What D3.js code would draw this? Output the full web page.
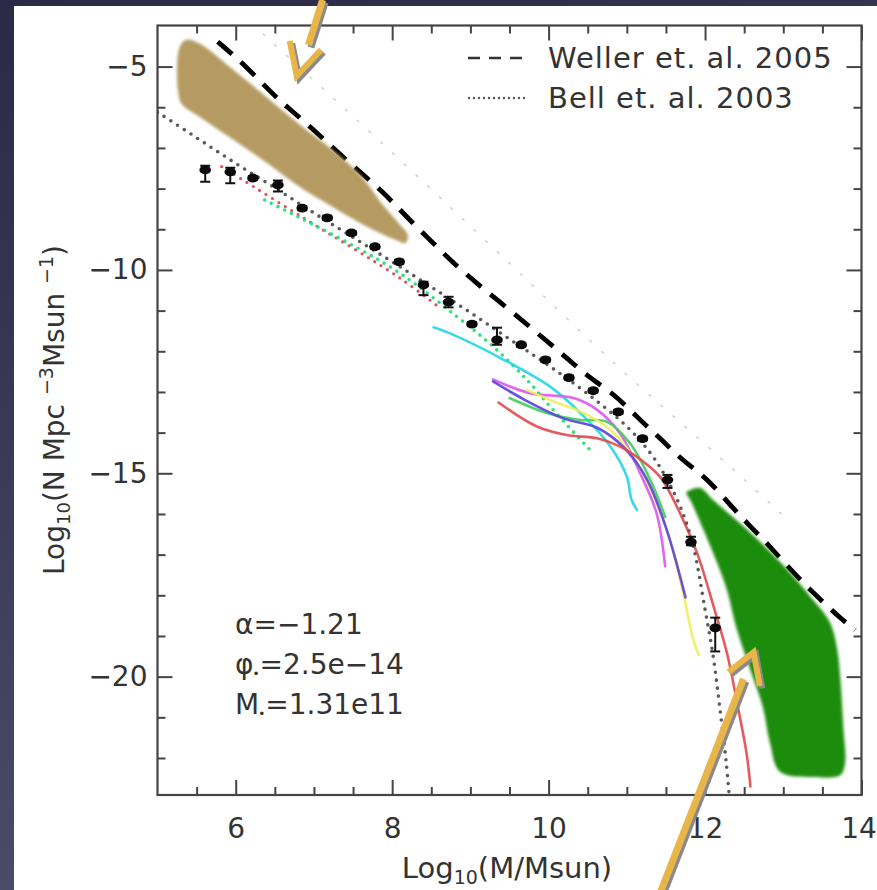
<!DOCTYPE html>
<html><head><meta charset="utf-8">
<script src="https://cdn.jsdelivr.net/npm/d3@7"></script>
<style>
body{margin:0;background:#fff;}
svg{display:block;}
text{font-family:"DejaVu Sans",sans-serif;fill:#333;}
</style>
</head><body>
<svg id="chart" width="877" height="890"></svg>
<script>
// ---------------- DATA ----------------
// binned mass function points (log10 M, log10 N) with error bars (dex)
const massBins   = [5.61,5.93,6.22,6.54,6.85,7.17,7.48,7.78,8.09,8.40,8.72,9.02,9.34,9.65,9.96,10.26,10.57,10.89,11.20,11.52,11.82,12.13];
const logDensity = [-7.54,-7.59,-7.74,-7.91,-8.48,-8.72,-9.09,-9.43,-9.80,-10.37,-10.79,-11.33,-11.72,-11.84,-12.21,-12.65,-12.97,-13.49,-14.15,-15.16,-16.69,-18.80];
const errLow     = [0.29,0.28,0.05,0.16,0.05,0.05,0.05,0.05,0.05,0.25,0.13,0.05,0.12,0.05,0.05,0.05,0.05,0.05,0.05,0.20,0.08,0.58];
const errHigh    = [0.10,0.10,0.05,0.11,0.05,0.05,0.05,0.05,0.05,0.08,0.13,0.05,0.30,0.05,0.05,0.05,0.05,0.05,0.05,0.12,0.13,0.25];

// Schechter fit (black dotted)
const fitMass = [5.0,5.5,6.0,6.5,7.0,7.5,8.0,8.5,9.0,9.5,10.0,10.5,11.0,11.3,11.5,11.7,11.85,12.0,12.1,12.2,12.27,12.31];
const fitLogN = [-6.12,-6.75,-7.38,-7.98,-8.6,-9.2,-9.8,-10.42,-11.05,-11.7,-12.35,-13.05,-13.85,-14.5,-15.1,-15.9,-16.8,-18.35,-19.45,-20.95,-22.1,-22.95];

// Weller et al. 2005 (thick dashed)
const wellerMass = [5.77,6.14,6.48,6.78,7.09,7.46,7.86,8.17,8.52,8.78,9.12,9.55,9.91,10.23,10.52,10.84,11.14,11.45,11.70,12.02,12.32,12.58,12.83,13.13,13.41,13.75,13.92];
const wellerLogN = [-4.39,-5.0,-5.70,-6.19,-6.72,-7.39,-8.03,-8.67,-9.33,-9.83,-10.39,-11.06,-11.64,-12.16,-12.65,-13.05,-13.64,-14.18,-14.67,-15.11,-15.78,-16.31,-16.80,-17.45,-17.99,-18.60,-18.85];

// faint grey dotted (upper)
const faintMass = [6.35,6.95,7.80,8.71,9.55,10.95,11.90,12.74,13.0];
const faintLogN = [-4.2,-5.25,-6.75,-8.40,-9.92,-12.53,-14.10,-15.57,-16.05];

// coloured dotted fits
const redDotted   = [[5.82,-7.46],[6.84,-8.69],[8.10,-10.2],[8.62,-10.95]];
const greenDotted = [[6.37,-8.28],[7.97,-9.92],[8.83,-11.15],[9.34,-11.97],[9.76,-12.78],[10.02,-13.36],[10.57,-14.51]];

// coloured solid curves
const cyanCurve    = [[8.53,-11.41],[8.74,-11.56],[9.38,-12.16],[10.02,-12.87],[10.45,-13.6],[10.79,-14.34],[11.0,-15.08],[11.06,-15.65],[11.13,-15.9]];
const magentaCurve = [[9.29,-12.69],[9.76,-13.03],[10.32,-13.15],[10.62,-13.44],[10.91,-14.01],[11.17,-15.0],[11.38,-15.98],[11.49,-17.29]];
const blueCurve    = [[9.29,-12.74],[9.7,-13.2],[10.19,-13.65],[10.62,-13.88],[10.96,-14.36],[11.26,-15.16],[11.51,-16.39],[11.75,-18.05]];
const yellowCurve  = [[9.72,-12.95],[10.02,-13.2],[10.45,-13.52],[10.8,-13.95],[11.13,-14.75],[11.51,-16.39],[11.72,-17.95],[11.85,-19.1],[11.92,-19.47]];
const greenCurve   = [[9.50,-13.15],[9.98,-13.52],[10.40,-13.69],[10.74,-13.73],[11.04,-14.26],[11.30,-15.16],[11.49,-16.07]];
const redCurve     = [[9.36,-13.26],[9.85,-13.85],[10.23,-14.06],[10.62,-14.14],[10.91,-14.34],[11.2,-14.7],[11.43,-15.1],[11.68,-15.98],[11.9,-16.97],[12.11,-18.28],[12.28,-19.42],[12.41,-20.65],[12.53,-21.88],[12.58,-22.7]];

// highlighted regions (blobs)
const brownRegion = [[5.37,-4.34],[5.54,-4.44],[5.97,-5.08],[6.48,-5.89],[6.82,-6.43],[7.24,-7.05],[7.59,-7.66],[7.88,-8.40],[8.10,-8.89],[8.20,-9.14],[8.17,-9.34],[8.04,-9.26],[7.68,-8.94],[7.24,-8.45],[6.82,-7.96],[6.40,-7.37],[5.97,-6.80],[5.54,-6.24],[5.31,-5.92],[5.26,-5.57],[5.26,-4.71],[5.30,-4.46]];
const greenRegion = [[11.81,-15.41],[11.94,-15.36],[12.10,-15.65],[12.54,-16.39],[12.97,-17.20],[13.38,-18.11],[13.60,-18.68],[13.69,-19.34],[13.73,-20.08],[13.77,-21.31],[13.79,-22.12],[13.73,-22.42],[13.38,-22.47],[12.96,-22.34],[12.83,-21.63],[12.74,-20.75],[12.58,-19.84],[12.41,-18.86],[12.28,-17.87],[12.19,-17.38],[11.98,-16.39],[11.81,-15.65],[11.76,-15.48]];

// annotation arrows (data coordinates)
const arrowTopShaft = [[7.11,-3.36],[6.93,-4.47]];
const arrowTopHead  = [[6.69,-4.37],[6.78,-5.23],[7.09,-4.59]];
const arrowBotShaft = [[11.43,-25.3],[12.49,-20.06]];
const arrowBotHead  = [[12.30,-19.89],[12.62,-19.40],[12.70,-20.23]];

// ticks and labels
const xMajorTicks = [6,8,10,12,14];
const xMinorTicks = [5.5,6.5,7,7.5,8.5,9,9.5,10.5,11,11.5,12.5,13,13.5];
const yMajorTicks = [-5,-10,-15,-20];
const yMinorTicks = [-22,-21,-19,-18,-17,-16,-14,-13,-12,-11,-9,-8,-7,-6];
const legendLabels = ["Weller et. al. 2005","Bell et. al. 2003"];
const fitParams = [["α","","=−1.21"],["φ","•","=2.5e−14"],["M","•","=1.31e11"]];

// ---------------- DRAW ----------------
const W=877,H=890;
const svg=d3.select("#chart");
const defs=svg.append("defs");
const grad=defs.append("linearGradient").attr("id","bg").attr("x1",0).attr("y1",0).attr("x2",0.3).attr("y2",1);
grad.append("stop").attr("offset","0%").attr("stop-color","#2a2946");
grad.append("stop").attr("offset","100%").attr("stop-color","#4c4e6b");
svg.append("rect").attr("width",W).attr("height",H).attr("fill","url(#bg)");
svg.append("rect").attr("x",14).attr("y",6).attr("width",W-14).attr("height",H-6).attr("fill","#fff");

const P={left:157.5,right:861.5,top:25.5,bottom:795};
const x=d3.scaleLinear().domain([5,14]).range([P.left,P.right]);
const y=d3.scaleLinear().domain([-22.91,-3.99]).range([P.bottom,P.top]);

defs.append("clipPath").attr("id","clip").append("rect")
  .attr("x",P.left).attr("y",P.top).attr("width",P.right-P.left).attr("height",P.bottom-P.top);
defs.append("filter").attr("id","soft").attr("x","-10%").attr("y","-10%").attr("width","120%").attr("height","120%")
  .append("feGaussianBlur").attr("stdDeviation",1.8);

const plot=svg.append("g").attr("clip-path","url(#clip)");
const lineXY=d3.line().x(d=>x(d[0])).y(d=>y(d[1])).curve(d3.curveCatmullRom.alpha(0.5));
const smoothXY=d3.line().x(d=>x(d[0])).y(d=>y(d[1])).curve(d3.curveBasis);
const zip=(a,b)=>a.map((v,i)=>[v,b[i]]);

// faint grey dotted
plot.append("path").attr("d",smoothXY(zip(faintMass,faintLogN))).attr("fill","none")
  .attr("stroke","#cfcfcf").attr("stroke-width",1.5).attr("stroke-dasharray","2,14").attr("stroke-linecap","round");

// coloured dotted
plot.append("path").attr("d",lineXY(redDotted)).attr("fill","none")
  .attr("stroke","#e2525e").attr("stroke-width",3.2).attr("stroke-dasharray","0,7.5").attr("stroke-linecap","round");
plot.append("path").attr("d",lineXY(greenDotted)).attr("fill","none")
  .attr("stroke","#2ee07e").attr("stroke-width",3.6).attr("stroke-dasharray","0,7.5").attr("stroke-linecap","round");

// coloured solid curves
const solid=[[cyanCurve,"#22d6e6"],[magentaCurve,"#dd55ee"],[greenCurve,"#3dcf5a"],[yellowCurve,"#f0ee5a"],[blueCurve,"#5a40de"],[redCurve,"#e2484c"]];
solid.forEach(([c,col])=>{
  plot.append("path").attr("d",lineXY(c)).attr("fill","none").attr("stroke",col)
    .attr("stroke-width",2.6).attr("stroke-linecap","round").attr("opacity",0.9);
});

// Schechter dotted
plot.append("path").attr("d",lineXY(zip(fitMass,fitLogN))).attr("fill","none")
  .attr("stroke","#5a5a5a").attr("stroke-width",3.6).attr("stroke-dasharray","0,8").attr("stroke-linecap","round");

// Weller dashed
plot.append("path").attr("d",smoothXY(zip(wellerMass,wellerLogN))).attr("fill","none")
  .attr("stroke","#000").attr("stroke-width",4.8).attr("stroke-dasharray","19,12");

// data points with error bars
const pts=massBins.map((m,i)=>({m,n:logDensity[i],lo:errLow[i],hi:errHigh[i]}));
const pg=plot.append("g");
pts.forEach(d=>{
  pg.append("line").attr("x1",x(d.m)).attr("x2",x(d.m)).attr("y1",y(d.n+d.hi)).attr("y2",y(d.n-d.lo))
    .attr("stroke","#111").attr("stroke-width",2);
  [d.n+d.hi,d.n-d.lo].forEach(v=>pg.append("line").attr("x1",x(d.m)-5).attr("x2",x(d.m)+5)
    .attr("y1",y(v)).attr("y2",y(v)).attr("stroke","#111").attr("stroke-width",2));
  pg.append("ellipse").attr("cx",x(d.m)).attr("cy",y(d.n)).attr("rx",5.8).attr("ry",4.4).attr("fill","#0a0a0a");
});

// blobs
const blob=d3.line().x(d=>x(d[0])).y(d=>y(d[1])).curve(d3.curveCatmullRomClosed.alpha(0.5));
plot.append("path").attr("d",blob(brownRegion)).attr("fill","#b59b62").attr("filter","url(#soft)");
plot.append("path").attr("d",blob(greenRegion)).attr("fill","#1b8c0b").attr("filter","url(#soft)");

// axes (inward ticks on four sides)
const tickStyle=g=>{g.select(".domain").remove();g.selectAll(".tick line").attr("stroke","#444").attr("stroke-width",2);};
const fmt=d=>d3.format("d")(d);
svg.append("g").attr("transform",`translate(0,${P.bottom})`)
  .call(d3.axisBottom(x).tickValues(xMajorTicks).tickSize(-15).tickPadding(23).tickFormat(fmt))
  .call(tickStyle).call(g=>g.selectAll("text").attr("font-size",28).attr("fill","#333").attr("font-family","DejaVu Sans")
    .attr("dx",d=>d===14?-3:0));
svg.append("g").attr("transform",`translate(0,${P.bottom})`)
  .call(d3.axisBottom(x).tickValues(xMinorTicks).tickSize(-8).tickFormat("")).call(tickStyle);
svg.append("g").attr("transform",`translate(0,${P.top})`)
  .call(d3.axisTop(x).tickValues(xMajorTicks).tickSize(-15).tickFormat("")).call(tickStyle);
svg.append("g").attr("transform",`translate(0,${P.top})`)
  .call(d3.axisTop(x).tickValues(xMinorTicks).tickSize(-8).tickFormat("")).call(tickStyle);
svg.append("g").attr("transform",`translate(${P.left},0)`)
  .call(d3.axisLeft(y).tickValues(yMajorTicks).tickSize(-15).tickPadding(10).tickFormat(fmt))
  .call(tickStyle).call(g=>g.selectAll("text").attr("font-size",28).attr("fill","#333").attr("font-family","DejaVu Sans"));
svg.append("g").attr("transform",`translate(${P.left},0)`)
  .call(d3.axisLeft(y).tickValues(yMinorTicks).tickSize(-8).tickFormat("")).call(tickStyle);
svg.append("g").attr("transform",`translate(${P.right},0)`)
  .call(d3.axisRight(y).tickValues(yMajorTicks).tickSize(-15).tickFormat("")).call(tickStyle);
svg.append("g").attr("transform",`translate(${P.right},0)`)
  .call(d3.axisRight(y).tickValues(yMinorTicks).tickSize(-8).tickFormat("")).call(tickStyle);

// frame
svg.append("rect").attr("x",P.left).attr("y",P.top).attr("width",P.right-P.left).attr("height",P.bottom-P.top)
  .attr("fill","none").attr("stroke","#444").attr("stroke-width",2.2);

// axis titles
const xt=svg.append("text").attr("x",507).attr("y",878).attr("text-anchor","middle").attr("font-size",29);
xt.append("tspan").text("Log");
xt.append("tspan").attr("font-size",19).attr("dy",6).text("10");
xt.append("tspan").attr("dy",-6).text("(M/Msun)");

const yt=svg.append("text").attr("transform","translate(64,410) rotate(-90)").attr("text-anchor","middle").attr("font-size",28);
yt.append("tspan").text("Log");
yt.append("tspan").attr("font-size",18).attr("dy",6).text("10");
yt.append("tspan").attr("dy",-6).text("(N Mpc ");
yt.append("tspan").attr("font-size",19).attr("dy",-11).text("−3");
yt.append("tspan").attr("dy",11).text("Msun ");
yt.append("tspan").attr("font-size",19).attr("dy",-11).text("−1");
yt.append("tspan").attr("dy",11).text(")");

// legend
svg.append("line").attr("x1",468).attr("x2",528).attr("y1",58).attr("y2",58)
  .attr("stroke","#333").attr("stroke-width",2.6).attr("stroke-dasharray","12,9");
svg.append("line").attr("x1",469).attr("x2",528).attr("y1",98).attr("y2",98)
  .attr("stroke","#555").attr("stroke-width",2.4).attr("stroke-dasharray","0,5").attr("stroke-linecap","round");
legendLabels.forEach((t,i)=>svg.append("text").attr("x",548).attr("y",68+i*40).attr("font-size",29)
  .attr("letter-spacing",1).text(t));

// fit parameters text
fitParams.forEach((p,i)=>{
  const t=svg.append("text").attr("x",235).attr("y",634+i*40).attr("font-size",28);
  t.append("tspan").text(p[0]);
  if(p[1]){t.append("tspan").attr("font-size",12).attr("dy",4).attr("dx",-1).text(p[1]);
           t.append("tspan").attr("dy",-4).text(p[2]);}
  else t.append("tspan").text(p[2]);
});

// arrows
const straight=d3.line().x(d=>x(d[0])).y(d=>y(d[1]));
function arrow(shaft,head){
  [["#8a8a8a",2.5],["#e8b548",0]].forEach(([col,off])=>{
    const g=svg.append("g").attr("transform",`translate(${off},${off})`);
    g.append("path").attr("d",straight(shaft)).attr("stroke",col).attr("stroke-width",7).attr("fill","none");
    g.append("path").attr("d",straight(head)).attr("stroke",col).attr("stroke-width",6).attr("fill","none")
      .attr("stroke-linejoin","miter");
  });
}
arrow(arrowTopShaft,arrowTopHead);
arrow(arrowBotShaft,arrowBotHead);
</script>
</body></html>
